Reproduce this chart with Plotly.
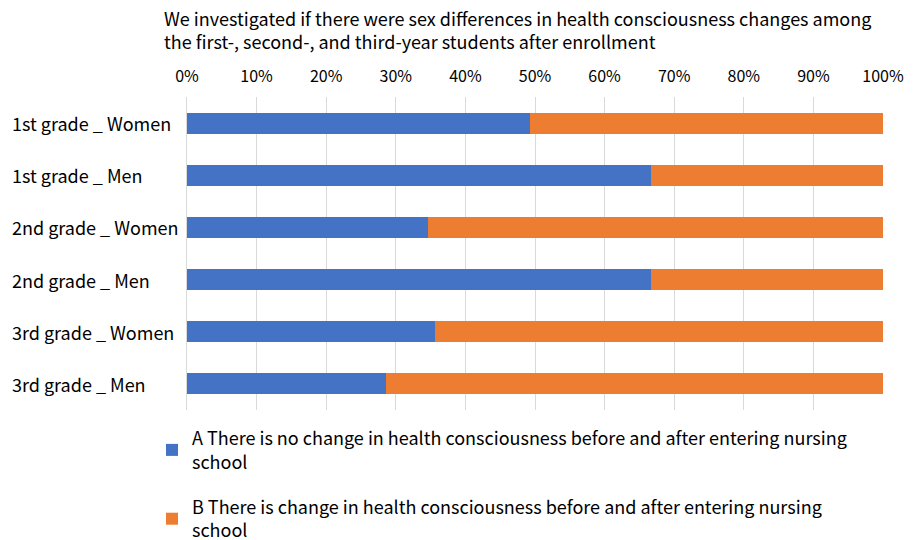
import plotly.graph_objects as go

categories = ["1st grade _ Women", "1st grade _ Men", "2nd grade _ Women",
              "2nd grade _ Men", "3rd grade _ Women", "3rd grade _ Men"]
no_change = [49.3, 66.7, 34.6, 66.7, 35.6, 28.6]
change = [round(100 - v, 1) for v in no_change]
tick_values = list(range(0, 101, 10))
tick_labels = [f"{v}%" for v in tick_values]
name_a = "A There is no change in health consciousness before and after entering nursing<br>school"
name_b = "B There is change in health consciousness before and after entering nursing<br>school"
title = ("We investigated if there were sex differences in health consciousness changes among<br>"
         "the first-, second-, and third-year students after enrollment")

font = "Noto Sans CJK JP"
OFF = 8  # page body margin
W, H = 915 - OFF, 540 - OFF
L, T = 187 - OFF, 97 - OFF
R = W - (883 - OFF)
B = H - (410 - OFF)
pw, ph = W - L - R, H - T - B

fig = go.Figure()
fig.add_trace(go.Bar(y=categories, x=no_change, orientation="h", name=name_a,
                     legendgroup="a",
                     marker=dict(color="#4472C4", line=dict(width=0))))
fig.add_trace(go.Bar(y=categories, x=change, orientation="h", name=name_b,
                     legendgroup="b",
                     marker=dict(color="#ED7D31", line=dict(width=0))))

# left-aligned category labels
for c in categories:
    fig.add_annotation(text=c, x=(10 - OFF - L) / pw, xref="paper", xanchor="left",
                       y=c, yref="y", yanchor="middle", showarrow=False,
                       font=dict(family=font, size=18, color="#000000"))

fig.add_annotation(text=title, x=(163 - OFF - L) / pw, xref="paper", xanchor="left",
                   y=1 + (T + 4) / ph, yref="paper", yanchor="top", align="left",
                   showarrow=False, borderpad=0,
                   font=dict(family=font, size=18, color="#000000"))

fig.update_layout(
    width=W, height=H,
    barmode="stack", bargap=0.6,
    paper_bgcolor="white", plot_bgcolor="white",
    font=dict(family=font, size=16, color="#000000"),
    margin=dict(l=L, r=R, t=T, b=B, autoexpand=False),
    xaxis=dict(range=[0, 100], side="top", tickvals=tick_values,
               ticktext=tick_labels, automargin=False,
               showgrid=True, gridcolor="#D9D9D9", gridwidth=1,
               zeroline=False, showline=False, ticks="",
               ticklabelstandoff=11,
               tickfont=dict(size=16), fixedrange=True),
    yaxis=dict(autorange="reversed", showgrid=False, showline=True,
               linecolor="#D9D9D9", ticks="", showticklabels=False,
               automargin=False),
    legend=dict(x=(152 - OFF - L) / pw, xanchor="left", y=-(10 / ph), yanchor="top",
                orientation="v", tracegroupgap=19,
                font=dict(size=18), traceorder="grouped"),
    showlegend=True,
)

fig.write_html("out.html")
